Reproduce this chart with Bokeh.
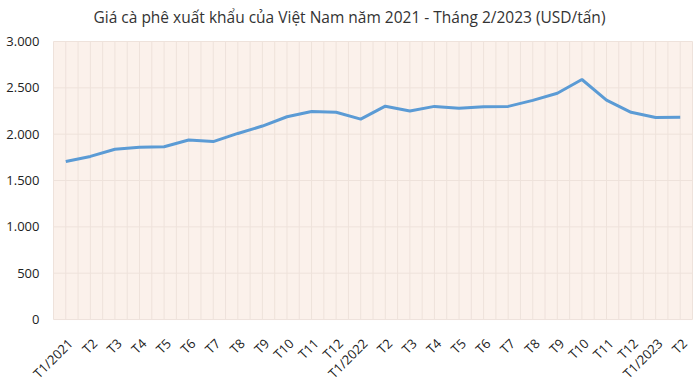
from math import pi
from bokeh.plotting import figure
from bokeh.models import Range1d
from bokeh.core.properties import value
from bokeh.embed import file_html
from bokeh.resources import INLINE

months = ["T1/2021", "T2", "T3", "T4", "T5", "T6", "T7", "T8", "T9", "T10", "T11", "T12",
          "T1/2022", "T2", "T3", "T4", "T5", "T6", "T7", "T8", "T9", "T10", "T11", "T12",
          "T1/2023", "T2"]
prices = [1705, 1760, 1838, 1860, 1865, 1938, 1920, 2008, 2088, 2188, 2245, 2236,
          2163, 2302, 2250, 2300, 2280, 2295, 2300, 2365, 2442, 2590, 2368, 2236,
          2180, 2182]
y_ticks = [0, 500, 1000, 1500, 2000, 2500, 3000]
y_tick_labels = ["0", "500", "1.000", "1.500", "2.000", "2.500", "3.000"]
title_text = "Giá cà phê xuất khẩu của Việt Nam năm 2021 - Tháng 2/2023 (USD/tấn)"

xs = list(range(len(months)))
n = len(months)
y_min, y_max = y_ticks[0], y_ticks[-1]
x_lo, x_hi = -0.5, n - 0.5
grid_x = sorted(xs + [i - 0.5 for i in range(n + 1)])

# the frame covers the whole figure so that the tick labels (drawn as text) fit in it
label_room_y = 701    # data units below 0 for the rotated month labels
top_room_y = 108      # data units above the top gridline for the top value label
label_room_x = 2.156  # category units left of the plot area for the value labels
right_room_x = 0.325  # category units right of the plot area

p = figure(width=700, height=384, output_backend="svg", toolbar_location=None,
           x_range=Range1d(x_lo - label_room_x, x_hi + right_room_x),
           y_range=Range1d(y_min - label_room_y, y_max + top_room_y),
           min_border_left=0, min_border_right=0, min_border_top=28, min_border_bottom=0)

p.title.text = title_text
p.title.align = "left"
p.title.text_font = "Open Sans"
p.title.text_font_size = "15.5px"
p.title.text_font_style = "normal"
p.title.text_color = "#333333"
p.title.offset = 93
p.title.standoff = 7

p.background_fill_color = "white"
p.border_fill_color = "white"
p.outline_line_color = None

# plot area background
p.quad(left=[x_lo], right=[x_hi], bottom=[y_min], top=[y_max],
       fill_color="#FBF1EB", line_color=None)
# grid lines
p.segment(x0=grid_x, y0=[y_min] * len(grid_x), x1=grid_x, y1=[y_max] * len(grid_x),
          line_color="#EEE2DB", line_width=1)
p.segment(x0=[x_lo] * len(y_ticks), y0=y_ticks, x1=[x_hi] * len(y_ticks), y1=y_ticks,
          line_color="#EEE2DB", line_width=1)

p.line(xs, prices, line_color="#5B9BD5", line_width=3)

# category labels
p.text(x=xs, y=[y_min] * n, text=months, angle=pi / 4,
       text_align="right", text_baseline="top", x_offset=-2, y_offset=15,
       text_font=value("Open Sans"), text_font_size="13px", text_color="#222222")
# value labels
p.text(x=[x_lo] * len(y_ticks), y=y_ticks, text=y_tick_labels,
       text_align="right", text_baseline="middle", x_offset=-14,
       text_font=value("Open Sans"), text_font_size="13px", text_color="#222222")

p.xaxis.visible = False
p.yaxis.visible = False
p.xgrid.visible = False
p.ygrid.visible = False

open("out.html", "w").write(file_html(p, INLINE))
